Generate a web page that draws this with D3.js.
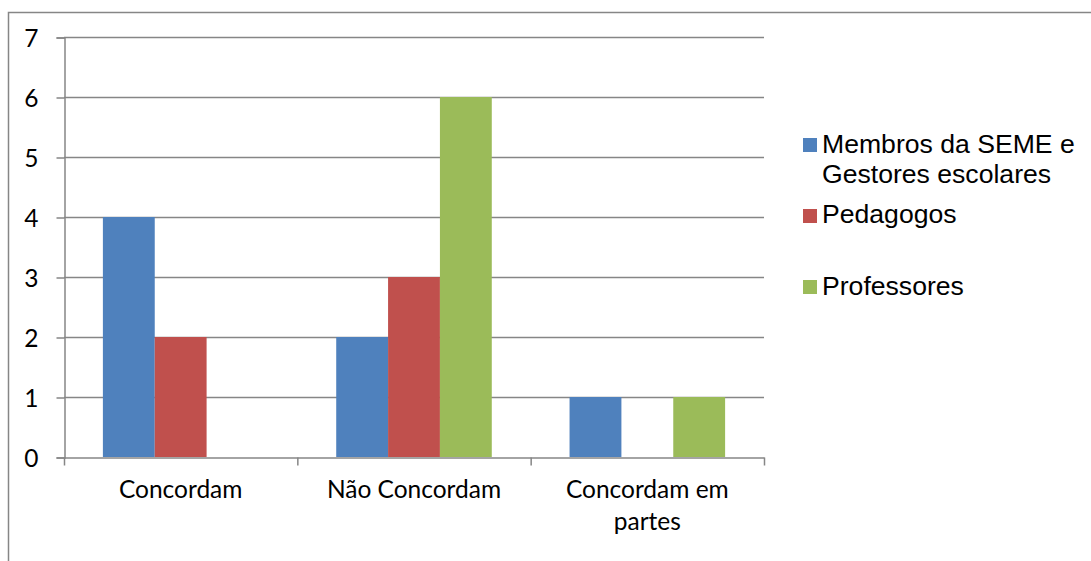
<!DOCTYPE html>
<html>
<head>
<meta charset="utf-8">
<script src="https://cdn.jsdelivr.net/npm/d3@7"></script>
<style>
  html, body { margin: 0; padding: 0; background: #fff; }
  svg { display: block; }
</style>
</head>
<body>
<svg id="chart" width="1091" height="561"></svg>
<script>
// Categories, series and values
const categories = ["Concordam", "Não Concordam", "Concordam em partes"];
const categoryLines = [["Concordam"], ["Não Concordam"], ["Concordam em", "partes"]];
const seriesNames = ["Membros da SEME e Gestores escolares", "Pedagogos", "Professores"];
const legendLines = [["Membros da SEME e", "Gestores escolares"], ["Pedagogos"], ["Professores"]];
const seriesColors = ["#4F81BD", "#C0504D", "#9BBB59"];
const membrosValues = [4, 2, 1];
const pedagogosValues = [2, 3, 0];
const professoresValues = [0, 6, 1];
const yTicks = [0, 1, 2, 3, 4, 5, 6, 7];

const seriesValues = [membrosValues, pedagogosValues, professoresValues];

const svg = d3.select("#chart");
const gridColor = "#868686";
const labelFont = "Lato, 'Open Sans', sans-serif";
const legendFont = "'Liberation Sans', Arial, sans-serif";

// Outer chart frame
svg.append("rect")
  .attr("x", 8.5).attr("y", 12.5)
  .attr("width", 1100).attr("height", 600)
  .attr("fill", "none")
  .attr("stroke", gridColor)
  .attr("stroke-width", 1.5);

const plot = { left: 64, right: 764, top: 37, bottom: 457 };

const y = d3.scaleLinear().domain([0, 7]).range([plot.bottom, plot.top]);
const x0 = d3.scaleBand().domain(categories).range([plot.left, plot.right]).padding(0);
const x1 = d3.scaleBand().domain(seriesNames).range([0, x0.bandwidth()])
  .paddingInner(0).paddingOuter(0.75);

// Horizontal gridlines
svg.append("g")
  .selectAll("line")
  .data(yTicks.filter(d => d > 0))
  .join("line")
  .attr("x1", plot.left).attr("x2", plot.right)
  .attr("y1", d => Math.round(y(d)) + 0.5).attr("y2", d => Math.round(y(d)) + 0.5)
  .attr("stroke", gridColor).attr("stroke-width", 1.5);

// Bars
const groups = svg.append("g")
  .selectAll("g")
  .data(categories)
  .join("g")
  .attr("transform", d => `translate(${x0(d)},0)`);

groups.selectAll("rect")
  .data((c, ci) => seriesNames.map((s, si) => ({ s, si, v: seriesValues[si][ci] })))
  .join("rect")
  .attr("x", d => x1(d.s))
  .attr("width", x1.bandwidth())
  .attr("y", d => y(d.v))
  .attr("height", d => y(0) - y(d.v))
  .attr("fill", d => seriesColors[d.si]);

// Y axis
const yAxis = d3.axisLeft(y).tickValues(yTicks).tickSize(8).tickPadding(18)
  .tickFormat(d3.format("d"));
const gy = svg.append("g").attr("transform", `translate(${plot.left + 0.5},0.5)`).call(yAxis);
gy.select(".domain").attr("stroke", gridColor).attr("stroke-width", 1.5);
gy.selectAll(".tick line").attr("stroke", gridColor).attr("stroke-width", 1.5);
gy.selectAll(".tick text")
  .attr("font-family", labelFont).attr("font-size", 24.5).attr("fill", "#000")
  .attr("dy", "0.36em");

// X axis with ticks at category boundaries
const xAxis = d3.axisBottom(x0).tickSize(0).tickFormat("");
const gx = svg.append("g").attr("transform", `translate(0,${plot.bottom + 0.5})`).call(xAxis);
gx.select(".domain").attr("stroke", gridColor).attr("stroke-width", 1.5);
gx.selectAll(".tick").remove();
const boundaries = categories.map(c => x0(c)).concat([plot.right]);
gx.selectAll(".bound")
  .data(boundaries)
  .join("line")
  .attr("class", "bound")
  .attr("x1", d => d + 0.5).attr("x2", d => d + 0.5)
  .attr("y1", 0).attr("y2", 8)
  .attr("stroke", gridColor).attr("stroke-width", 1.5);

// Category labels
const catLabels = svg.append("g")
  .selectAll("text")
  .data(categories)
  .join("text")
  .attr("x", d => x0(d) + x0.bandwidth() / 2)
  .attr("y", 498)
  .attr("text-anchor", "middle")
  .attr("font-family", labelFont)
  .attr("font-size", 24.5)
  .attr("fill", "#000");
catLabels.selectAll("tspan")
  .data((d, i) => categoryLines[i])
  .join("tspan")
  .attr("x", function () { return this.parentNode.getAttribute("x"); })
  .attr("dy", (d, i) => i === 0 ? 0 : 32)
  .text(d => d);

// Legend
const legendRows = [
  { square: 138, baseline: 153 },
  { square: 209, baseline: 223 },
  { square: 280, baseline: 295 }
];
const legend = svg.append("g")
  .selectAll("g")
  .data(seriesNames)
  .join("g");
legend.append("rect")
  .attr("x", 803).attr("y", (d, i) => legendRows[i].square)
  .attr("width", 14).attr("height", 14)
  .attr("fill", (d, i) => seriesColors[i]);
const legendText = legend.append("text")
  .attr("x", 822).attr("y", (d, i) => legendRows[i].baseline)
  .attr("font-family", legendFont)
  .attr("font-size", 26.6)
  .attr("fill", "#000");
legendText.selectAll("tspan")
  .data((d, i) => legendLines[i])
  .join("tspan")
  .attr("x", 822)
  .attr("dy", (d, i) => i === 0 ? 0 : 30)
  .text(d => d);
</script>
</body>
</html>
